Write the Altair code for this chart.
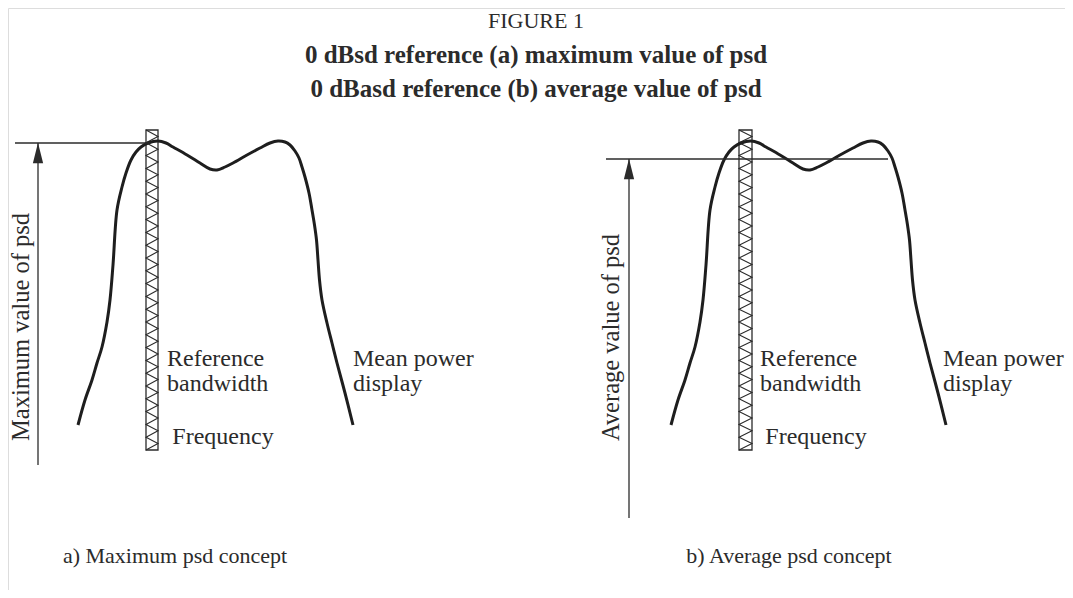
import altair as alt
import pandas as pd

# ---- data (pixel-like diagram coordinates) ----
curve_x = [78, 85, 92, 97, 102, 107, 110, 113, 117, 122, 126, 131, 136, 141, 148, 158,
           166, 173, 187, 200, 210, 217, 225, 233, 247, 260, 270, 278, 285, 290, 295,
           299, 302, 305, 309, 312, 314.5, 316.5, 318, 319.5, 322, 327, 332, 337, 345, 353]
curve_y = [425, 400, 380, 363, 347, 322, 300, 265, 210, 187, 173, 160, 152, 147, 143, 141,
           143, 147, 155, 163, 169, 170, 167, 163, 155, 148, 143, 141, 142, 145, 151,
           158, 167, 177, 193, 210, 225, 240, 260, 280, 300, 323, 343, 363, 393, 425]

panels = ["a", "b"]
panel_offset = [0, 593]

bar_left = [146, 739]
bar_right = [158, 752]
bar_top = [130, 130]
bar_bottom = [450, 450]
hatch_segments = 50

ref_line_y = [143, 159]
ref_line_x0 = [15, 606]
ref_line_x1 = [150, 888]

arrow_x = [38, 629]
arrow_tip = [143, 159]
arrow_bottom = [465, 518]

title_lines = ["FIGURE 1",
               "0 dBsd reference (a) maximum value of psd",
               "0 dBasd reference (b) average value of psd"]
title_y = [21, 55, 89]

axis_labels = ["Maximum value of psd", "Average value of psd"]
axis_label_x = [22, 612]
axis_label_y = [441, 441]

side_labels = ["Reference", "bandwidth", "Mean power", "display",
               "Reference", "bandwidth", "Mean power", "display"]
side_x = [167, 167, 353, 353, 760, 760, 943, 943]
side_y = [366, 391, 366, 391, 366, 391, 366, 391]

freq_labels = ["Frequency", "Frequency"]
freq_x = [223, 816]
freq_y = [437, 437]

captions = ["a) Maximum psd concept", "b) Average psd concept"]
caption_x = [175, 789]
caption_y = [556, 556]

# ---- build tables ----
curve_rows = []
for p, off in zip(panels, panel_offset):
    for i, (cx, cy) in enumerate(zip(curve_x, curve_y)):
        curve_rows.append({"panel": p, "order": i, "x": cx + off, "y": cy})
curve_df = pd.DataFrame(curve_rows)

bar_df = pd.DataFrame({"panel": panels, "x": bar_left, "x2": bar_right,
                       "y": bar_top, "y2": bar_bottom})

hatch_rows = []
for p, l, r, t, b in zip(panels, bar_left, bar_right, bar_top, bar_bottom):
    step = (b - t) / hatch_segments
    for k in range(hatch_segments + 1):
        hatch_rows.append({"panel": p, "order": k,
                           "x": l if k % 2 == 0 else r, "y": t + k * step})
hatch_df = pd.DataFrame(hatch_rows)

ref_df = pd.DataFrame({"panel": panels, "x": ref_line_x0, "x2": ref_line_x1, "y": ref_line_y})
arrow_df = pd.DataFrame({"panel": panels, "x": arrow_x, "y": arrow_tip, "y2": arrow_bottom})
head_df = pd.DataFrame({"panel": panels, "x": arrow_x,
                        "y": [t + 10 for t in arrow_tip]})

title_df = pd.DataFrame({"text": title_lines, "x": [536] * 3, "y": title_y,
                         "bold": [False, True, True]})
axis_df = pd.DataFrame({"text": axis_labels, "x": axis_label_x, "y": axis_label_y})
side_df = pd.DataFrame({"text": side_labels, "x": side_x, "y": side_y})
freq_df = pd.DataFrame({"text": freq_labels, "x": freq_x, "y": freq_y})
cap_df = pd.DataFrame({"text": captions, "x": caption_x, "y": caption_y})

W, H = 1057, 582
xs = alt.Scale(domain=[8, 8 + W], nice=False, zero=False)
ys = alt.Scale(domain=[8, 8 + H], nice=False, zero=False, reverse=True)
X = lambda f="x": alt.X(f"{f}:Q", scale=xs, axis=None)
Y = lambda f="y": alt.Y(f"{f}:Q", scale=ys, axis=None)

SERIF = "Liberation Serif"
INK = "#2b2b2b"

curve = alt.Chart(curve_df).mark_line(
    color="#1e1e1e", strokeWidth=3, interpolate="catmull-rom"
).encode(x=X(), y=Y(), detail="panel:N", order="order:Q")

bars = alt.Chart(bar_df).mark_rect(
    fill="white", stroke=INK, strokeWidth=1.3
).encode(x=X(), x2="x2:Q", y=Y(), y2="y2:Q")

hatch = alt.Chart(hatch_df).mark_line(
    color=INK, strokeWidth=1.1
).encode(x=X(), y=Y(), detail="panel:N", order="order:Q")

refs = alt.Chart(ref_df).mark_rule(color=INK, strokeWidth=1.3).encode(
    x=X(), x2="x2:Q", y=Y())

arrows = alt.Chart(arrow_df).mark_rule(color=INK, strokeWidth=1.3).encode(
    x=X(), y=Y(), y2="y2:Q")

heads = alt.Chart(head_df).mark_point(
    shape="M0,-1L0.5,1L-0.5,1Z", filled=True, size=420, color=INK, opacity=1
).encode(x=X(), y=Y())

titles_plain = alt.Chart(title_df[~title_df["bold"]]).mark_text(
    font=SERIF, fontSize=22, color=INK, align="center", baseline="middle"
).encode(x=X(), y=Y(), text="text:N")
titles_bold = alt.Chart(title_df[title_df["bold"]]).mark_text(
    font=SERIF, fontSize=25, fontWeight="bold", color=INK, align="center", baseline="middle"
).encode(x=X(), y=Y(), text="text:N")

axis_txt = alt.Chart(axis_df).mark_text(
    font=SERIF, fontSize=24.5, color=INK, angle=270, align="left", baseline="middle"
).encode(x=X(), y=Y(), text="text:N")

side_txt = alt.Chart(side_df).mark_text(
    font=SERIF, fontSize=24, color=INK, align="left", baseline="alphabetic"
).encode(x=X(), y=Y(), text="text:N")

freq_txt = alt.Chart(freq_df).mark_text(
    font=SERIF, fontSize=24, color=INK, align="center", baseline="middle"
).encode(x=X(), y=Y(), text="text:N")

cap_txt = alt.Chart(cap_df).mark_text(
    font=SERIF, fontSize=22, color=INK, align="center", baseline="middle"
).encode(x=X(), y=Y(), text="text:N")

chart = alt.layer(
    bars, hatch, curve, refs, arrows, heads,
    titles_plain, titles_bold, axis_txt, side_txt, freq_txt, cap_txt
).properties(
    width=W, height=H, padding=0, autosize=alt.AutoSizeParams(type="none")
).configure_view(strokeWidth=0, stroke="transparent").configure(background="white")

chart.save("out.html", embed_options={"renderer": "svg", "actions": False})
